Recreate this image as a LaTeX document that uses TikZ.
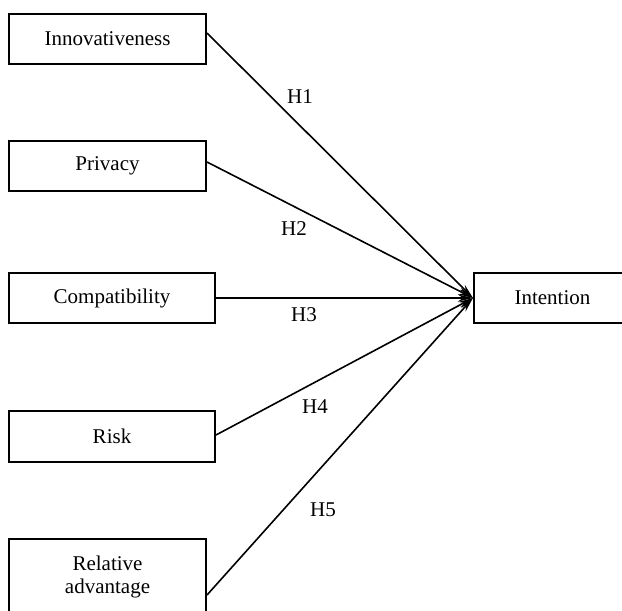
\documentclass[tikz,border=0pt]{standalone}
\usepackage{fontspec}
\setmainfont{Liberation Serif}
\usetikzlibrary{arrows.meta}
\begin{document}
\begin{tikzpicture}[x=1pt,y=-1pt,
  box/.style={draw=black,line width=2pt,fill=white,inner sep=0pt,align=center,
    font=\fontsize{21}{24}\selectfont},
  lbl/.style={inner sep=0pt,font=\fontsize{21}{24}\selectfont},
  link/.style={line width=1.6pt,-{Stealth[length=15pt,width=7pt]}}]
\useasboundingbox (0,0) rectangle (622,611);
\clip (0,0) rectangle (622,611);
\node[box,minimum width=197pt,minimum height=50pt] (inn) at (107.5,39) {Innovativeness};
\node[box,minimum width=197pt,minimum height=50pt] (pri) at (107.5,166) {Privacy};
\node[box,minimum width=206pt,minimum height=50pt] (com) at (112,298) {Compatibility};
\node[box,minimum width=206pt,minimum height=51pt] (ris) at (112,436.5) {Risk};
\node[box,minimum width=197pt,minimum height=76pt] (rel) at (107.5,577) {Relative\\[-1pt]advantage};
\node[box,minimum width=157pt,minimum height=50pt] (int) at (552.5,298) {Intention};
\draw[link] ([yshift=6pt]inn.east) -- (int.west);
\draw[link] ([yshift=4pt]pri.east) -- (int.west);
\draw[link] (com.east) -- (int.west);
\draw[link] ([yshift=1.5pt]ris.east) -- (int.west);
\draw[link] ([yshift=-18pt]rel.east) -- (int.west);
\node[lbl] (h1) at (300,97) {H1};
\node[lbl] (h2) at (294,229) {H2};
\node[lbl] (h3) at (304,315) {H3};
\node[lbl] (h4) at (315,407) {H4};
\node[lbl] (h5) at (323,510) {H5};
\end{tikzpicture}
\end{document}
